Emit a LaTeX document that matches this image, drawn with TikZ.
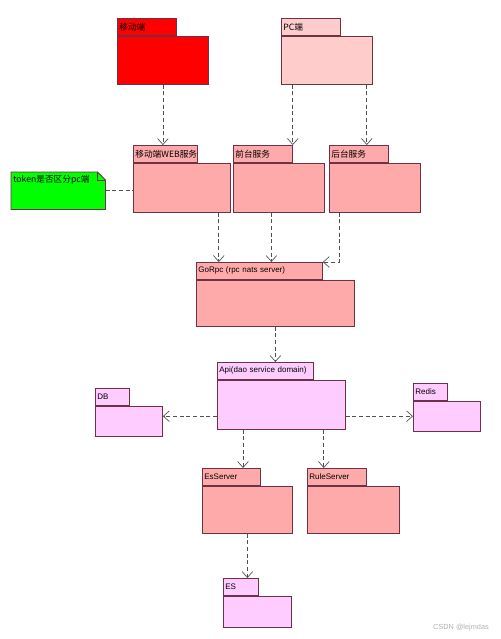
\documentclass[tikz,border=0pt]{standalone}
\usepackage{fontspec}
\setmainfont{Liberation Sans}
\newfontfamily\cjk{Noto Sans CJK SC}
\usetikzlibrary{arrows.meta, positioning, backgrounds}
\newlength{\pxl}
\setlength{\pxl}{0.75pt}
\definecolor{pkgline}{RGB}{110,50,70}
\definecolor{mobred}{RGB}{255,0,0}
\definecolor{pcpink}{RGB}{255,204,204}
\definecolor{svcpink}{RGB}{255,170,170}
\definecolor{lilac}{RGB}{255,204,255}
\definecolor{notegreen}{RGB}{0,255,0}
\definecolor{depgray}{RGB}{80,80,80}

\begin{document}
\begin{tikzpicture}[
    x=0.75pt, y=-0.75pt,
    pkgtab/.style={rectangle, draw=pkgline, line width=0.6pt, anchor=north west, text width=#1, minimum height=17\pxl, inner xsep=2\pxl, inner ysep=0pt, align=left, font=\fontsize{6}{7}\selectfont},
    pkgbody/.style={rectangle, draw=pkgline, line width=0.6pt, inner sep=0pt, below right=0pt and 0pt of #1},
    cjklabel/.style={font=\cjk\fontsize{6.5}{7}\selectfont},
    notebox/.style={anchor=north west, text width=90\pxl, inner xsep=2\pxl, inner ysep=4\pxl, text height=6\pxl, text depth=23\pxl, align=left, font=\cjk\fontsize{6.5}{7}\selectfont},
    dep/.style={draw=depgray, line width=0.5pt, dash pattern=on 3pt off 2pt, -{Straight Barb[length=4.5pt, width=8pt]}},
    link/.style={draw=depgray, line width=0.5pt, dash pattern=on 3pt off 2pt},
]
\begin{scope}[on background layer]
\fill[white] (0,0) rectangle (500,639);
\end{scope}
\useasboundingbox (0,0) rectangle (500,639);

% clients
\node[pkgtab=55\pxl, fill=mobred, cjklabel] (mobt) at (117,18) {移动端};
\node[pkgbody=mobt.south west, fill=mobred, minimum width=91\pxl, minimum height=48\pxl] (mobb) {};

\node[pkgtab=55\pxl, fill=pcpink, cjklabel] (pct) at (281,18) {PC端};
\node[pkgbody=pct.south west, fill=pcpink, minimum width=91\pxl, minimum height=48\pxl] (pcb) {};

% services
\node[pkgtab=60\pxl, fill=svcpink, cjklabel] (webt) at (133,145) {移动端WEB服务};
\node[pkgbody=webt.south west, fill=svcpink, minimum width=97\pxl, minimum height=49\pxl] (webb) {};

\node[pkgtab=55\pxl, fill=svcpink, cjklabel] (frontt) at (233,145) {前台服务};
\node[pkgbody=frontt.south west, fill=svcpink, minimum width=91\pxl, minimum height=49\pxl] (frontb) {};

\node[pkgtab=55\pxl, fill=svcpink, cjklabel] (backt) at (329,145) {后台服务};
\node[pkgbody=backt.south west, fill=svcpink, minimum width=91\pxl, minimum height=49\pxl] (backb) {};

% note
\node[notebox] (note) at (11,172) {token是否区分pc端};
\begin{scope}[on background layer]
\draw[draw=pkgline, fill=notegreen, line width=0.6pt] (note.south west) -- (note.north west) -- ([xshift=-8\pxl]note.north east) -- ([yshift=-8\pxl]note.north east) -- (note.south east) -- cycle;
\end{scope}
\draw[draw=pkgline, line width=0.5pt] ([xshift=-8\pxl]note.north east) -- ([xshift=-8\pxl, yshift=-8\pxl]note.north east) -- ([yshift=-8\pxl]note.north east);

% rpc
\node[pkgtab=122\pxl, fill=svcpink] (gorpct) at (196,262) {GoRpc (rpc nats server)};
\node[pkgbody=gorpct.south west, fill=svcpink, minimum width=158\pxl, minimum height=46\pxl] (gorpcb) {};

% api and stores
\node[pkgtab=92\pxl, fill=lilac] (apit) at (217,362) {Api(dao service domain)};
\node[pkgbody=apit.south west, fill=lilac, minimum width=128\pxl, minimum height=49\pxl] (apib) {};

\node[pkgtab=30\pxl, fill=lilac] (dbt) at (95,388) {DB};
\node[pkgbody=dbt.south west, fill=lilac, minimum width=67\pxl, minimum height=30\pxl] (dbb) {};

\node[pkgtab=30\pxl, fill=lilac] (redist) at (413,383) {Redis};
\node[pkgbody=redist.south west, fill=lilac, minimum width=67\pxl, minimum height=30\pxl] (redisb) {};

\node[pkgtab=54\pxl, fill=svcpink] (esst) at (202,468) {EsServer};
\node[pkgbody=esst.south west, fill=svcpink, minimum width=90\pxl, minimum height=47\pxl] (essb) {};

\node[pkgtab=55\pxl, fill=svcpink] (rulet) at (307,468) {RuleServer};
\node[pkgbody=rulet.south west, fill=svcpink, minimum width=92\pxl, minimum height=47\pxl] (ruleb) {};

\node[pkgtab=31\pxl, fill=lilac] (est) at (223,578) {ES};
\node[pkgbody=est.south west, fill=lilac, minimum width=68\pxl, minimum height=31\pxl] (esb) {};

% dependencies
\draw[dep] (mobb.south) -- (mobb.south |- webt.north);
\draw[dep] (frontt.north east |- pcb.south) -- (frontt.north east);
\coordinate (pcR) at ([xshift=-6\pxl]pcb.south east);
\draw[dep] (pcR) -- (pcR |- backt.north);

\draw[link] (note.east) -- (note.east -| webb.west);

\coordinate (webD) at ([xshift=-12\pxl]webb.south east);
\draw[dep] (webD) -- (webD |- gorpct.north);
\coordinate (frontD) at ([xshift=-7.5\pxl]frontb.south);
\draw[dep] (frontD) -- (frontD |- gorpct.north);
\coordinate (backD) at ([xshift=10\pxl]backb.south west);
\draw[dep] (backD) |- (gorpct.north east);

\draw[dep] (gorpcb.south) -- (gorpcb.south |- apit.north);

\coordinate (apiL) at ([yshift=-11.5\pxl]apib.west);
\draw[dep] (apiL) -- (apiL -| dbb.east);
\coordinate (apiR) at ([yshift=-11.5\pxl]apib.east);
\draw[dep] (apiR) -- (apiR -| redisb.west);
\coordinate (apiE) at ([xshift=26\pxl]apib.south west);
\draw[dep] (apiE) -- (apiE |- esst.north);
\coordinate (apiU) at ([xshift=-22\pxl]apib.south east);
\draw[dep] (apiU) -- (apiU |- rulet.north);

\draw[dep] (essb.south) -- (essb.south |- est.north);

\node[text=black!30, font=\fontsize{5.5}{6}\selectfont] (mark) at (461,628) {CSDN @lejmdas};
\end{tikzpicture}
\end{document}
